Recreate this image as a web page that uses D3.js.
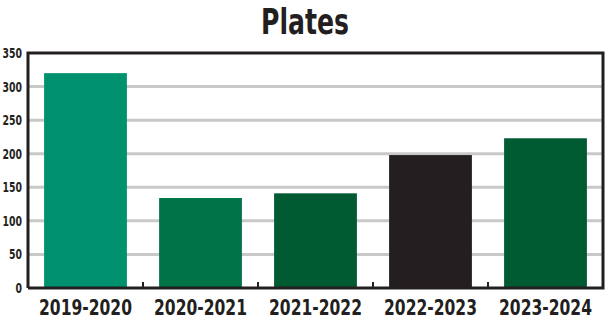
<!DOCTYPE html>
<html>
<head>
<meta charset="utf-8">
<script src="https://cdn.jsdelivr.net/npm/d3@7"></script>
<style>
  body { margin: 0; background: #fff; }
  text { font-family: "DejaVu Sans", sans-serif; font-stretch: condensed; fill: #231f20; }
</style>
</head>
<body>
<svg id="chart" width="610" height="322"></svg>
<script>
var seasons = ["2019-2020", "2020-2021", "2021-2022", "2022-2023", "2023-2024"];
var plates = [320, 134, 141, 198, 223];
var barColors = ["#00916e", "#007347", "#005a32", "#231f20", "#005a32"];
var yTicks = [0, 50, 100, 150, 200, 250, 300, 350];

var svg = d3.select("#chart");
var margin = {top: 53, right: 7, bottom: 34, left: 28};
var width = 610 - margin.left - margin.right,
    height = 322 - margin.top - margin.bottom;

var x = d3.scaleBand().domain(seasons).range([0, width]).paddingInner(0.28).paddingOuter(0.14);
var y = d3.scaleLinear().domain([0, 350]).range([height, 0]);

svg.append("text")
    .attr("x", 305).attr("y", 34)
    .attr("text-anchor", "middle")
    .attr("textLength", 88).attr("lengthAdjust", "spacingAndGlyphs")
    .style("font-size", "35px").style("font-weight", "bold")
    .text("Plates");

var g = svg.append("g").attr("transform", "translate(" + margin.left + "," + margin.top + ")");

// gridlines
g.selectAll(".grid")
    .data(yTicks.filter(d => d > 0 && d < 350))
  .enter().append("line")
    .attr("x1", 0).attr("x2", width)
    .attr("y1", d => y(d)).attr("y2", d => y(d))
    .attr("stroke", "#c8c8c8").attr("stroke-width", 3);

// bars
g.selectAll(".bar")
    .data(plates)
  .enter().append("rect")
    .attr("x", (d, i) => x(seasons[i]))
    .attr("width", x.bandwidth())
    .attr("y", d => y(d))
    .attr("height", d => y(0) - y(d))
    .attr("fill", (d, i) => barColors[i]);

// frame
g.append("path")
    .attr("d", "M0," + height + "V0H" + width + "V" + height + "H0")
    .attr("fill", "none").attr("stroke", "#231f20").attr("stroke-width", 3);

// ticks between bands
var step = x.step();
g.selectAll(".tick-mark")
    .data(d3.range(1, seasons.length))
  .enter().append("line")
    .attr("x1", d => d * step).attr("x2", d => d * step)
    .attr("y1", height).attr("y2", height - 6)
    .attr("stroke", "#231f20").attr("stroke-width", 2);

// y labels
g.selectAll(".ylab")
    .data(yTicks)
  .enter().append("text")
    .attr("x", -6).attr("y", d => y(d))
    .attr("dy", "0.36em")
    .attr("text-anchor", "end")
    .attr("textLength", d => String(d).length * 6.5).attr("lengthAdjust", "spacingAndGlyphs")
    .style("font-size", "14px").style("font-weight", "bold")
    .text(d => d);

// x labels, squeezed horizontally to the narrow look of the original
g.selectAll(".xlab")
    .data(seasons)
  .enter().append("text")
    .attr("text-anchor", "middle")
    .style("font-size", "21px").style("font-weight", "bold")
    .text(d => d)
    .attr("transform", function(d) {
      var sx = 93 / this.getComputedTextLength();
      return "translate(" + (x(d) + x.bandwidth() / 2) + "," + (height + 27) + ") scale(" + sx + ",1)";
    });
</script>
</body>
</html>
